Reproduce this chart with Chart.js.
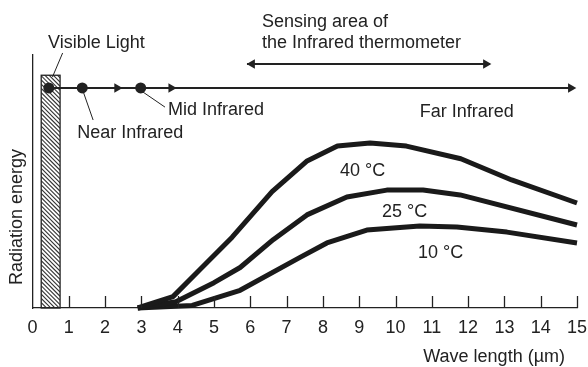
<!DOCTYPE html>
<html lang="en">
<head>
    <meta charset="UTF-8">
    <title>Radiation energy vs wave length</title>
    <script src="https://cdn.jsdelivr.net/npm/chart.js"></script>
    <style>
        body { margin: 0; background: #fff; }
        canvas { display: block; }
    </style>
</head>
<body>
    <canvas id="waveChart" width="588" height="367"></canvas>
    <script>
        // wave length (um) / relative radiation energy, one pair of arrays per temperature
        const t40X = [2.9, 3.87, 4.6, 5.5, 6.6, 7.55, 8.4, 9.3, 10.3, 11.8, 13.2, 15];
        const t40Y = [0, 4.5, 15, 28, 46, 58, 64, 65.2, 64, 59, 50.6, 41.5];
        const t25X = [2.9, 3.95, 5.0, 5.72, 6.63, 7.56, 8.66, 9.76, 10.76, 11.78, 15];
        const t25Y = [0, 2.5, 10, 16, 27, 36.8, 43.9, 46.6, 46.6, 44.7, 32.8];
        const t10X = [2.9, 4.4, 5.72, 7.37, 8.11, 9.21, 10.67, 11.69, 13.07, 15];
        const t10Y = [0, 1, 7, 20, 25.7, 30.8, 32.4, 32, 30, 25.7];

        const xTicks = [0, 1, 2, 3, 4, 5, 6, 7, 8, 9, 10, 11, 12, 13, 14, 15];

        // spectrum band line with its markers
        const bandY = 87;
        const bandLine = [0.45, 14.9];
        const bandDots = [0.45, 1.37, 2.98];
        const bandArrows = [2.33, 3.82, 14.83];
        // sensing range of the thermometer
        const senseY = 96.4;
        const senseLine = [5.91, 12.6];
        const senseArrowsLeft = [6.05];
        const senseArrowsRight = [12.49];
        // visible light strip
        const visibleBand = [0.24, 0.76];
        const visibleTop = 92;

        const ink = '#222';
        const font = '18px "Liberation Sans", Arial, sans-serif';

        const zip = (xs, ys) => xs.map((x, i) => ({ x: x, y: ys[i] }));
        const atY = (xs, y) => xs.map(x => ({ x: x, y: y }));

        const curve = (label, xs, ys) => ({
            label: label,
            type: 'line',
            data: zip(xs, ys),
            borderColor: '#1a1a1a',
            borderWidth: 5,
            borderJoinStyle: 'round',
            pointRadius: 0,
            tension: 0,
            clip: false
        });

        // text labels: [text, x, y] in data units, left aligned, vertically centred
        const labels = [
            ['Sensing area of', 6.32, 113],
            ['the Infrared thermometer', 6.32, 104.7],
            ['Visible Light', 0.43, 104.7],
            ['Mid Infrared', 3.73, 78.3],
            ['Near Infrared', 1.23, 69.2],
            ['Far Infrared', 10.67, 77.5],
            ['40 °C', 8.47, 54.2],
            ['25 °C', 9.63, 37.9],
            ['10 °C', 10.62, 21.7]
        ];
        // leader lines from labels to the band markers
        const leaders = [
            [[0.83, 100.8], [0.55, 91.3]],
            [[1.39, 85.8], [1.67, 74.3]],
            [[3.04, 85.4], [3.65, 79.4]]
        ];

        const decorations = {
            id: 'decorations',
            beforeDatasetsDraw(chart) {
                const { ctx, scales: { x, y } } = chart;
                const left = x.getPixelForValue(visibleBand[0]);
                const right = x.getPixelForValue(visibleBand[1]);
                const top = y.getPixelForValue(visibleTop);
                const bottom = y.getPixelForValue(0);
                ctx.save();
                ctx.beginPath();
                ctx.rect(left, top, right - left, bottom - top);
                ctx.clip();
                ctx.strokeStyle = '#333';
                ctx.lineWidth = 1.1;
                for (let k = top - (right - left) - 10; k < bottom + 10; k += 4.2) {
                    ctx.beginPath();
                    ctx.moveTo(left, k);
                    ctx.lineTo(right, k + (right - left));
                    ctx.stroke();
                }
                ctx.restore();
                ctx.save();
                ctx.strokeStyle = ink;
                ctx.lineWidth = 1.3;
                ctx.strokeRect(left, top, right - left, bottom - top);
                ctx.restore();
            },
            afterDraw(chart) {
                const { ctx, scales: { x, y } } = chart;
                const base = y.getPixelForValue(0);
                ctx.save();
                ctx.strokeStyle = ink;
                ctx.lineWidth = 1.3;
                // tick marks point up into the plot
                x.ticks.forEach(t => {
                    if (t.value === 0) return;
                    const px = Math.round(x.getPixelForValue(t.value)) + 0.5;
                    ctx.beginPath();
                    ctx.moveTo(px, base);
                    ctx.lineTo(px, base - 12);
                    ctx.stroke();
                });
                ctx.lineWidth = 1;
                leaders.forEach(([a, b]) => {
                    ctx.beginPath();
                    ctx.moveTo(x.getPixelForValue(a[0]), y.getPixelForValue(a[1]));
                    ctx.lineTo(x.getPixelForValue(b[0]), y.getPixelForValue(b[1]));
                    ctx.stroke();
                });
                ctx.fillStyle = ink;
                ctx.font = font;
                ctx.textAlign = 'left';
                ctx.textBaseline = 'middle';
                labels.forEach(([text, lx, ly]) => {
                    ctx.fillText(text, x.getPixelForValue(lx), y.getPixelForValue(ly));
                });
                ctx.textAlign = 'right';
                ctx.fillText('Wave length (µm)', 565, 357);
                ctx.translate(17.5, 217);
                ctx.rotate(-Math.PI / 2);
                ctx.textAlign = 'center';
                ctx.fillText('Radiation energy', 0, 0);
                ctx.restore();
            }
        };

        const marker = (xs, yv, rotation, style, radius) => ({
            type: 'scatter',
            data: atY(xs, yv),
            pointStyle: style,
            pointRotation: rotation,
            pointRadius: radius,
            backgroundColor: ink,
            borderColor: ink,
            borderWidth: 0,
            clip: false
        });

        const flatLine = (xs, yv) => ({
            type: 'line',
            data: atY(xs, yv),
            borderColor: ink,
            borderWidth: 2,
            pointRadius: 0,
            clip: false
        });

        new Chart(document.getElementById('waveChart'), {
            type: 'line',
            data: {
                datasets: [
                    curve('40 °C', t40X, t40Y),
                    curve('25 °C', t25X, t25Y),
                    curve('10 °C', t10X, t10Y),
                    flatLine(bandLine, bandY),
                    flatLine(senseLine, senseY),
                    marker(bandDots, bandY, 0, 'circle', 5.5),
                    marker(bandArrows, bandY, 90, 'triangle', 5.5),
                    marker(senseArrowsLeft, senseY, -90, 'triangle', 5.5),
                    marker(senseArrowsRight, senseY, 90, 'triangle', 5.5)
                ]
            },
            options: {
                responsive: false,
                animation: false,
                layout: { padding: { left: 32.5, right: 11, top: 55, bottom: 0 } },
                plugins: { legend: { display: false }, tooltip: { enabled: false } },
                scales: {
                    x: {
                        type: 'linear',
                        min: 0,
                        max: 15,
                        afterBuildTicks(scale) {
                            scale.ticks = xTicks.map(v => ({ value: v }));
                        },
                        afterFit(scale) {
                            scale.height = 59;
                            scale.paddingLeft = 0;
                            scale.paddingRight = 0;
                        },
                        grid: { display: false },
                        border: { display: true, color: ink, width: 1.3 },
                        ticks: {
                            color: ink,
                            font: { family: '"Liberation Sans", Arial, sans-serif', size: 18 },
                            padding: 1,
                            maxRotation: 0,
                            autoSkip: false
                        }
                    },
                    y: {
                        type: 'linear',
                        min: 0,
                        max: 100,
                        afterFit(scale) {
                            scale.width = 0;
                            scale.paddingTop = 0;
                            scale.paddingBottom = 0;
                        },
                        grid: { display: false },
                        border: { display: true, color: ink, width: 1.3 },
                        ticks: { display: false }
                    }
                }
            },
            plugins: [decorations]
        });
    </script>
</body>
</html>
